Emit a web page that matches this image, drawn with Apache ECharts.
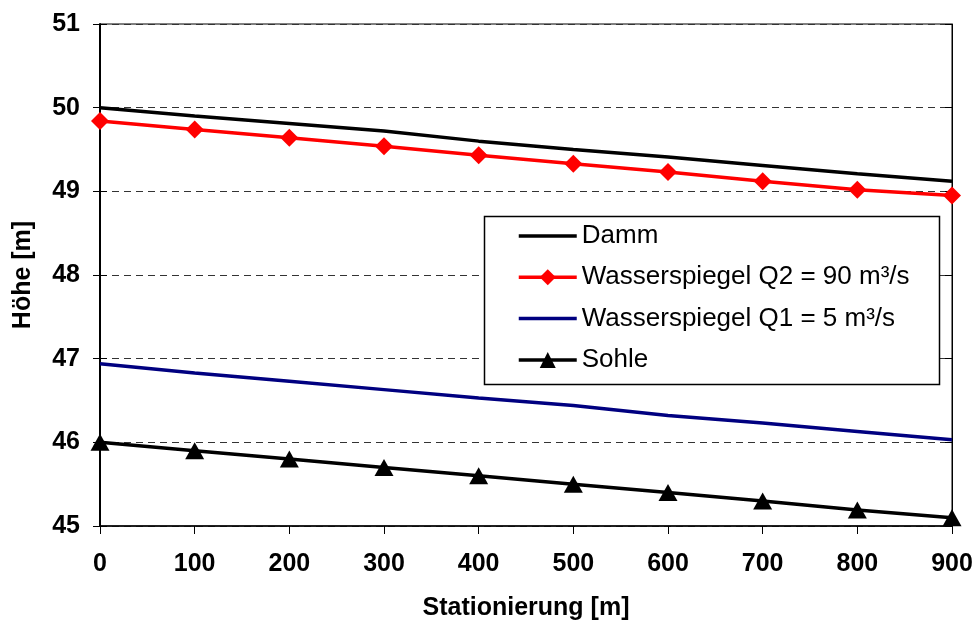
<!DOCTYPE html>
<html>
<head>
<meta charset="utf-8">
<script src="https://cdn.jsdelivr.net/npm/echarts@6/dist/echarts.min.js"></script>
<style>
html,body{margin:0;padding:0;background:#fff;}
#chart{width:977px;height:623px;}
</style>
</head>
<body>
<div id="chart"></div>
<script>
const stations = [0, 100, 200, 300, 400, 500, 600, 700, 800, 900];
const damm = [50.0, 49.9, 49.81, 49.72, 49.6, 49.5, 49.41, 49.31, 49.21, 49.12];
const wspQ2 = [49.84, 49.74, 49.64, 49.54, 49.43, 49.33, 49.23, 49.12, 49.02, 48.95];
const wspQ1 = [46.94, 46.83, 46.73, 46.63, 46.53, 46.44, 46.32, 46.23, 46.13, 46.03];
const sohle = [46.0, 45.9, 45.8, 45.7, 45.6, 45.5, 45.4, 45.3, 45.19, 45.1];
const seriesNames = ['Damm', 'Wasserspiegel Q2 = 90 m³/s', 'Wasserspiegel Q1 = 5 m³/s', 'Sohle'];
const xTitle = 'Stationierung [m]';
const yTitle = 'Höhe [m]';

const pair = arr => stations.map((s, i) => [s, arr[i]]);
const FONT = '"Liberation Sans", Arial, sans-serif';

const chart = echarts.init(document.getElementById('chart'), null, {renderer: 'canvas'});
chart.setOption({
  animation: false,
  backgroundColor: '#fff',
  grid: {left: 100, right: 25, top: 24, bottom: 97, containLabel: false, outerBoundsMode: 'none',
         show: true, borderColor: '#000', borderWidth: 1, backgroundColor: 'transparent'},
  graphic: [{
    type: 'rect', shape: {x: 484.5, y: 216.5, width: 455, height: 168},
    style: {fill: '#fff', stroke: '#000', lineWidth: 1.5}, z: 50
  }],
  legend: {
    orient: 'vertical', left: 517, top: 223, padding: 0,
    itemWidth: 58, itemHeight: 20, itemGap: 15.3,
    lineStyle: {width: 3.5},
    textStyle: {fontFamily: FONT, fontSize: 26, color: '#000', lineHeight: 26},
    data: [
      {name: seriesNames[0], itemStyle: {opacity: 0}},
      {name: seriesNames[1]},
      {name: seriesNames[2], itemStyle: {opacity: 0}},
      {name: seriesNames[3]}
    ], z: 60
  },
  xAxis: {
    type: 'value', min: 0, max: 900, interval: 100,
    name: xTitle, nameLocation: 'middle', nameGap: 70,
    nameTextStyle: {fontFamily: FONT, fontSize: 25, fontWeight: 'bold', color: '#000'},
    axisLine: {show: true, onZero: false, lineStyle: {color: '#000', width: 1.5}},
    axisTick: {show: true, length: 8, lineStyle: {color: '#000', width: 1}},
    axisLabel: {fontFamily: FONT, fontSize: 25, fontWeight: 'bold', color: '#000', margin: 26},
    splitLine: {show: false}
  },
  yAxis: [{
    type: 'value', min: 45, max: 51, interval: 1,
    name: yTitle, nameLocation: 'middle', nameGap: 64, nameRotate: 90,
    nameTextStyle: {fontFamily: FONT, fontSize: 25, fontWeight: 'bold', color: '#000'},
    axisLine: {show: true, onZero: false, lineStyle: {color: '#000', width: 2}},
    axisTick: {show: true, length: 7, lineStyle: {color: '#000', width: 1}},
    axisLabel: {fontFamily: FONT, fontSize: 25, fontWeight: 'bold', color: '#000', margin: 20},
    splitLine: {show: true, lineStyle: {color: '#333', width: 1, type: [7, 5]}}
  }, {
    type: 'value', min: 45, max: 51, interval: 1, position: 'right',
    axisLine: {show: true, onZero: false, lineStyle: {color: '#000', width: 1}},
    axisTick: {show: true, inside: true, length: 7, lineStyle: {color: '#000', width: 1}},
    axisLabel: {show: false},
    splitLine: {show: false}
  }, {
    type: 'value', min: 45, max: 51, interval: 1, position: 'left', offset: 0,
    axisLine: {show: false},
    axisTick: {show: true, inside: true, length: 7, lineStyle: {color: '#000', width: 1}},
    axisLabel: {show: false},
    splitLine: {show: false}
  }],
  series: [{
    name: seriesNames[0], type: 'line', data: pair(damm), symbol: 'none',
    lineStyle: {color: '#000', width: 3.5}, itemStyle: {color: '#000'}, z: 3
  }, {
    name: seriesNames[1], type: 'line', data: pair(wspQ2), symbol: 'diamond', symbolSize: [18, 18],
    lineStyle: {color: '#ff0000', width: 3.5}, itemStyle: {color: '#ff0000'}, z: 4
  }, {
    name: seriesNames[2], type: 'line', data: pair(wspQ1), symbol: 'none',
    lineStyle: {color: '#000080', width: 3.5}, itemStyle: {color: '#000080'}, z: 3
  }, {
    name: seriesNames[3], type: 'line', data: pair(sohle), symbol: 'triangle', symbolSize: [19, 17],
    lineStyle: {color: '#000', width: 3.5}, itemStyle: {color: '#000'}, z: 4
  }]
});
</script>
</body>
</html>
